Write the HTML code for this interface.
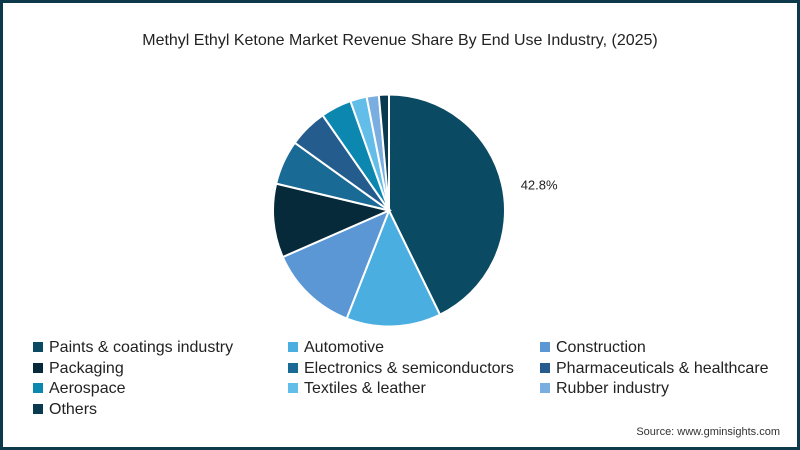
<!DOCTYPE html>
<html><head><meta charset="utf-8"><style>
body{margin:0;width:800px;height:450px;overflow:hidden;background:#fff;font-family:"Liberation Sans",sans-serif;}
#frame{position:absolute;left:0;top:0;width:794px;height:444px;border:3px solid #0d3a4a;background:#fff;}
.leg{position:absolute;font-size:16px;color:#222;white-space:nowrap;line-height:18px;}
.sw{display:inline-block;width:10px;height:10px;margin-right:6px;vertical-align:0px;}
</style></head><body>
<div id="frame"></div>
<div style="position:absolute;left:0;width:800px;top:32px;text-align:center;font-size:16px;color:#222;">Methyl Ethyl Ketone Market Revenue Share By End Use Industry, (2025)</div>
<svg id="pie" width="800" height="450" style="position:absolute;left:0;top:0"></svg>
<div id="legend"></div>
<div style="position:absolute;right:20px;top:426px;font-size:11px;color:#333;">Source: www.gminsights.com</div>
<script>
const categories=["Paints & coatings industry","Automotive","Construction","Packaging","Electronics & semiconductors","Pharmaceuticals & healthcare","Aerospace","Textiles & leather","Rubber industry","Others"];
const values=[42.8,13.2,12.5,10.3,6.2,5.4,4.3,2.3,1.7,1.4];
const colors=["#0b4a63","#4aaee0","#5b97d5","#062a3a","#1a6a96","#255c8e","#0c87b0","#62bde8","#7aaee0","#0a3a50"];
const cx=389,cy=210.5,r=116;
const svg=document.getElementById('pie');const NS="http://www.w3.org/2000/svg";
const total=values.reduce((a,b)=>a+b,0);
let a0=0;
values.forEach((v,i)=>{
  const a1=a0+v/total*2*Math.PI;
  const x0=cx+r*Math.sin(a0),y0=cy-r*Math.cos(a0),x1=cx+r*Math.sin(a1),y1=cy-r*Math.cos(a1);
  const p=document.createElementNS(NS,'path');
  p.setAttribute('d',`M${cx},${cy}L${x0},${y0}A${r},${r} 0 ${a1-a0>Math.PI?1:0} 1 ${x1},${y1}Z`);
  p.setAttribute('fill',colors[i]);p.setAttribute('stroke','#fff');p.setAttribute('stroke-width','2');
  
  
  svg.appendChild(p);
  if(i===0){
    const am=(a0+a1)/2;
    const t=document.createElementNS(NS,'text');
    t.setAttribute('x',cx+(r+34)*Math.sin(am)+4);t.setAttribute('y',cy-(r+34)*Math.cos(am)+13);
    t.setAttribute('font-size','13');t.setAttribute('fill','#222');t.setAttribute('text-anchor','middle');
    t.setAttribute('font-family','Liberation Sans, sans-serif');
    t.textContent=v.toFixed(1)+'%';
    
    
    svg.appendChild(t);
  }
  a0=a1;
});
const leg=document.getElementById('legend');
const colX=[33,288,540],rowY=[339,360,380,401];
categories.forEach((c,i)=>{
  const d=document.createElement('div');d.className='leg';
  d.style.left=colX[i%3]+'px';d.style.top=rowY[Math.floor(i/3)]+'px';
  d.innerHTML=`<span class="sw" style="background:${colors[i]}"></span>${c.replace('&','&amp;')}`;
  
  
  leg.appendChild(d);
});
</script>
</body></html>
